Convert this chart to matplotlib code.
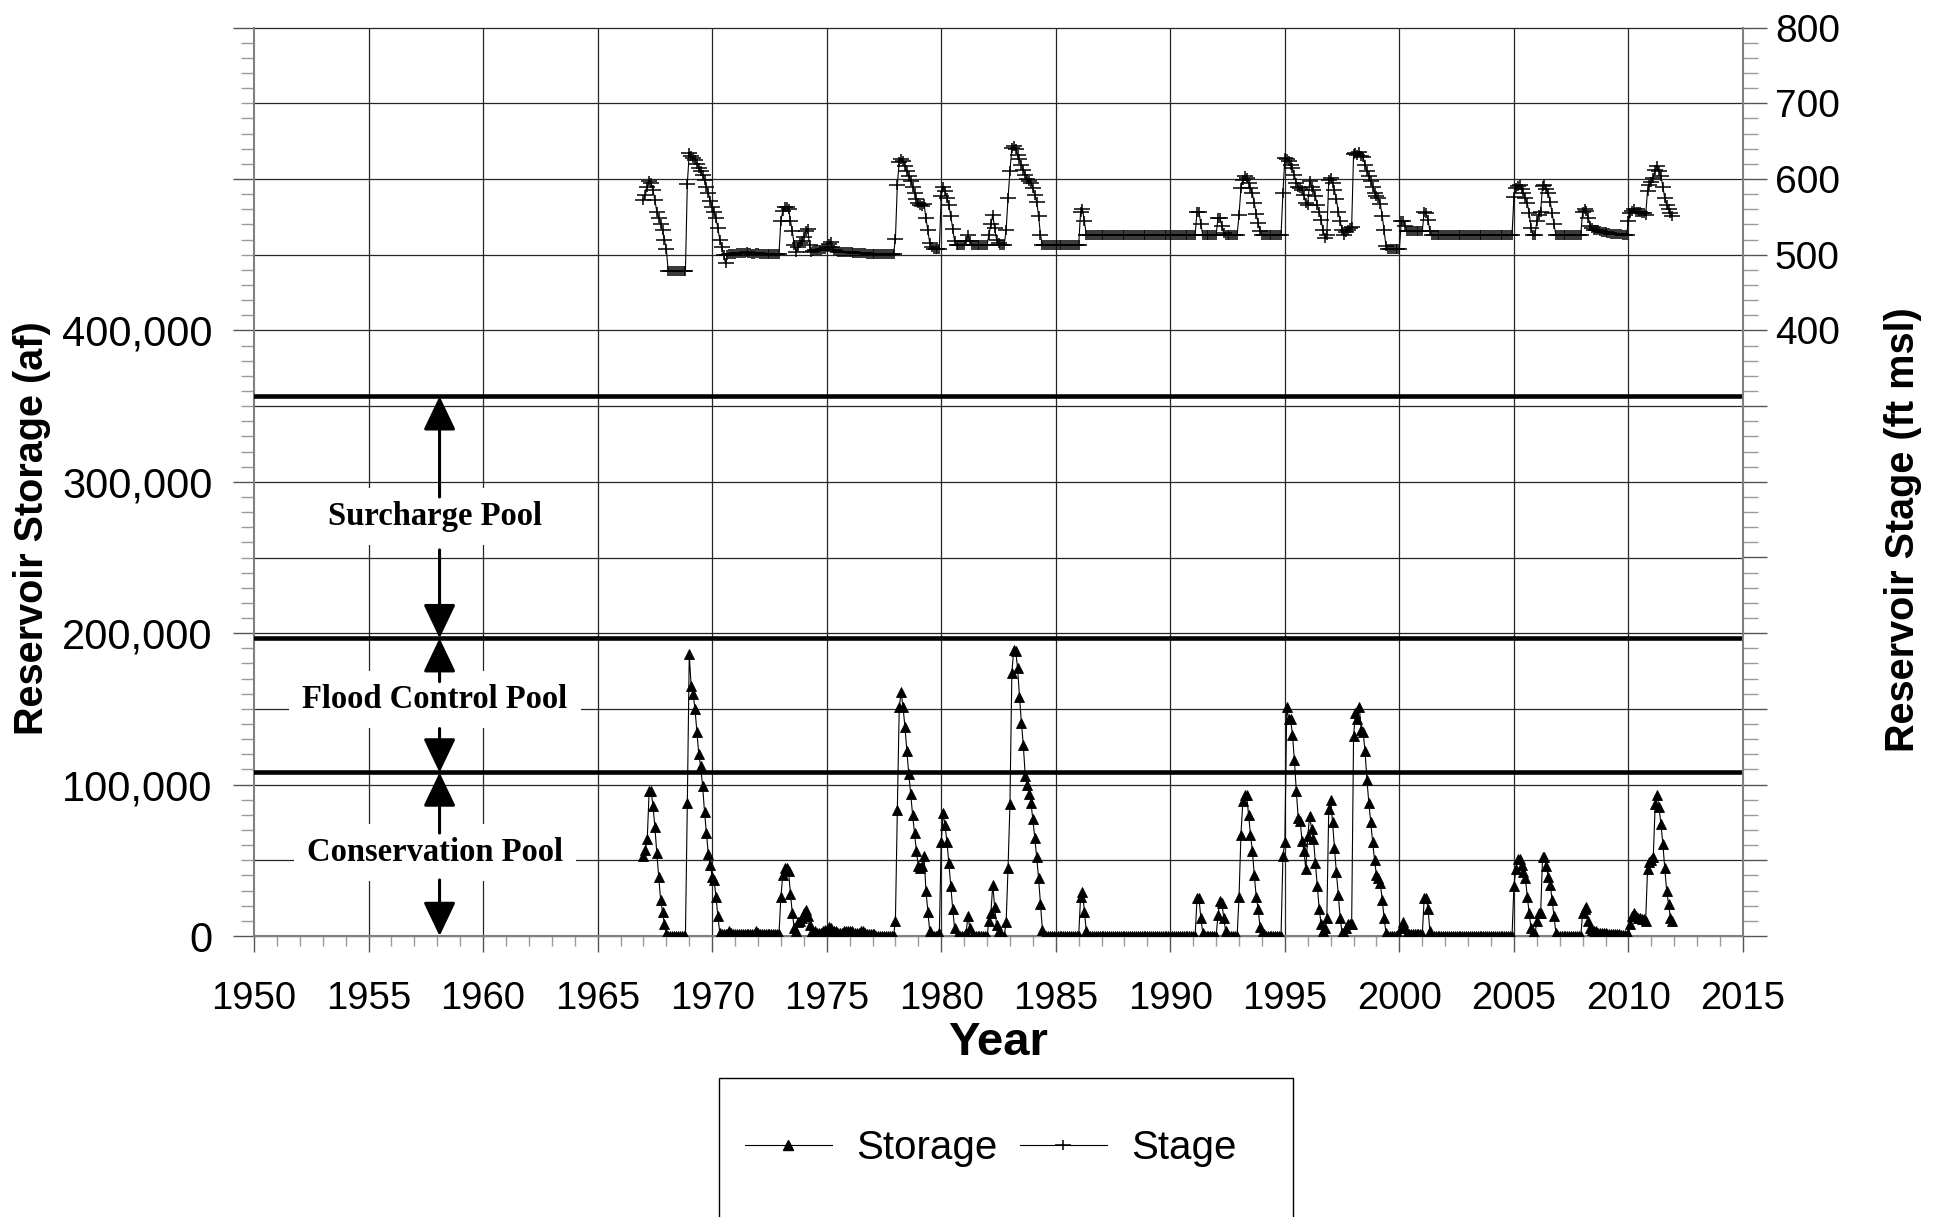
import numpy as np
import matplotlib
matplotlib.use('Agg')
import matplotlib.pyplot as plt
from matplotlib.path import Path
from matplotlib.ticker import MultipleLocator, FuncFormatter
from matplotlib.patches import Rectangle
from matplotlib.lines import Line2D

plt.rcParams['font.family'] = ['Liberation Sans', 'DejaVu Sans']

# ---------------- data (monthly, Jan 1967 - Dec 2011) ----------------
start_year = 1967
# Reservoir storage, thousand acre-feet
storage_1967_1976 = [
    53, 57, 64, 96, 96, 86, 72, 55, 39, 24, 16, 8,          # 1967
    1, 0, 0, 0, 0, 0, 0, 0, 0, 0, 0, 88,                    # 1968
    186, 165, 160, 150, 135, 120, 112, 99, 82, 68, 54, 47,  # 1969
    39, 37, 26, 13, 2, 1, 1, 1, 1, 3, 2, 1,                 # 1970
    1, 1, 1, 1, 1, 1, 1, 1, 1, 1, 1, 3,                     # 1971
    2, 1, 1, 1, 1, 1, 1, 1, 1, 1, 1, 1,                     # 1972
    26, 40, 45, 45, 43, 28, 15, 5, 3, 9, 10, 12,            # 1973
    15, 17, 13, 7, 2, 2, 3, 2, 2, 2, 3, 4,                  # 1974
    4, 6, 5, 3, 3, 3, 2, 2, 2, 3, 3, 3,                     # 1975
    3, 3, 2, 2, 2, 2, 3, 3, 2, 1, 1, 1,                     # 1976
]
storage_1977_1986 = [
    1, 1, 0, 0, 0, 0, 0, 0, 0, 0, 0, 0,                     # 1977
    10, 83, 151, 161, 151, 138, 122, 107, 94, 80, 68, 56,   # 1978
    46, 45, 46, 53, 30, 16, 3, 0, 0, 0, 0, 2,               # 1979
    62, 81, 73, 62, 48, 33, 18, 5, 0, 0, 0, 0,              # 1980
    0, 2, 13, 5, 0, 0, 0, 0, 0, 0, 0, 0,                    # 1981
    0, 10, 15, 34, 19, 7, 3, 1, 0, 0, 9, 45,                # 1982
    87, 174, 189, 188, 177, 158, 141, 126, 106, 100, 94, 88,  # 1983
    77, 65, 52, 38, 21, 4, 0, 0, 0, 0, 0, 0,                # 1984
    0, 0, 0, 0, 0, 0, 0, 0, 0, 0, 0, 0,                     # 1985
    0, 26, 29, 16, 3, 0, 0, 0, 0, 0, 0, 0,                  # 1986
]
storage_1987_1996 = [
    0, 0, 0, 0, 0, 0, 0, 0, 0, 0, 0, 0,                     # 1987
    0, 0, 0, 0, 0, 0, 0, 0, 0, 0, 0, 0,                     # 1988
    0, 0, 0, 0, 0, 0, 0, 0, 0, 0, 0, 0,                     # 1989
    0, 0, 0, 0, 0, 0, 0, 0, 0, 0, 0, 0,                     # 1990
    0, 0, 25, 25, 12, 2, 0, 0, 0, 0, 0, 0,                  # 1991
    0, 14, 23, 22, 12, 3, 0, 0, 0, 0, 0, 0,                 # 1992
    26, 67, 89, 93, 93, 80, 67, 56, 40, 26, 18, 6,          # 1993
    2, 1, 0, 0, 0, 0, 0, 0, 0, 0, 0, 53,                    # 1994
    62, 151, 143, 143, 133, 116, 96, 78, 76, 63, 56, 44,    # 1995
    66, 79, 71, 64, 48, 33, 18, 8, 3, 5, 12, 84,            # 1996
]
storage_1997_2011 = [
    90, 75, 58, 42, 27, 12, 2, 2, 5, 8, 8, 8,               # 1997
    132, 147, 143, 151, 136, 135, 122, 103, 88, 75, 62, 50,  # 1998
    40, 38, 35, 24, 12, 2, 0, 0, 0, 0, 0, 0,                # 1999
    0, 5, 9, 5, 2, 1, 1, 1, 1, 1, 1, 1,                     # 2000
    1, 25, 25, 18, 3, 0, 0, 0, 0, 0, 0, 0,                  # 2001
    0, 0, 0, 0, 0, 0, 0, 0, 0, 0, 0, 0,                     # 2002
    0, 0, 0, 0, 0, 0, 0, 0, 0, 0, 0, 0,                     # 2003
    0, 0, 0, 0, 0, 0, 0, 0, 0, 0, 0, 0,                     # 2004
    33, 44, 51, 51, 47, 42, 38, 26, 15, 5, 2, 1,            # 2005
    10, 15, 15, 52, 52, 46, 39, 34, 24, 13, 2, 0,           # 2006
    0, 0, 0, 0, 0, 0, 0, 0, 0, 0, 0, 0,                     # 2007
    15, 18, 19, 10, 5, 4, 3, 3, 2, 2, 2, 2,                 # 2008
    2, 1.5, 1.5, 1, 1, 1, 1, 1, 0.5, 0.5, 0.5, 0.5,         # 2009
    1, 8, 13, 15, 13, 12, 12, 11, 11, 10, 44, 49,           # 2010
    50, 52, 87, 93, 85, 74, 61, 45, 30, 21, 12, 10,         # 2011
]

# Reservoir stage, ft msl
stage_1967_1976 = [
    572, 579, 590, 598, 595, 585, 572, 557, 549, 541, 532, 520,  # 1967
    507, 478, 478, 478, 478, 478, 478, 478, 478, 478, 478, 594,  # 1968
    634, 631, 628, 625, 620, 615, 610, 605, 599, 590, 582, 571,  # 1969
    563, 557, 548, 535, 520, 510, 500, 489, 500, 501, 501, 501,  # 1970
    501, 502, 502, 502, 502, 502, 503, 502, 502, 501, 501, 502,  # 1971
    502, 501, 501, 501, 501, 501, 501, 501, 501, 501, 501, 501,  # 1972
    545, 558, 563, 563, 560, 545, 531, 513, 504, 510, 515, 518,  # 1973
    524, 531, 534, 513, 504, 505, 506, 506, 506, 506, 507, 508,  # 1974
    510, 514, 517, 510, 506, 505, 504, 504, 503, 503, 503, 503,  # 1975
    503, 503, 502, 502, 502, 502, 502, 502, 502, 501, 501, 501,  # 1976
]
stage_1977_1986 = [
    501, 501, 501, 501, 501, 501, 501, 501, 501, 501, 501, 501,  # 1977
    521, 592, 623, 626, 624, 617, 610, 604, 598, 590, 582, 573,  # 1978
    568, 565, 564, 567, 548, 532, 515, 510, 508, 508, 508, 508,  # 1979
    577, 590, 584, 575, 565, 551, 534, 518, 513, 513, 513, 513,  # 1980
    513, 518, 526, 518, 513, 513, 513, 513, 513, 513, 513, 513,  # 1981
    513, 526, 540, 553, 535, 520, 515, 513, 513, 513, 533, 575,  # 1982
    610, 641, 643, 639, 632, 626, 619, 612, 605, 600, 598, 595,  # 1983
    588, 579, 570, 551, 526, 513, 513, 513, 513, 513, 513, 513,  # 1984
    513, 513, 513, 513, 513, 513, 513, 513, 513, 513, 513, 513,  # 1985
    513, 556, 560, 544, 526, 526, 526, 526, 526, 526, 526, 526,  # 1986
]
stage_1987_1996 = [
    526, 526, 526, 526, 526, 526, 526, 526, 526, 526, 526, 526,  # 1987
    526, 526, 526, 526, 526, 526, 526, 526, 526, 526, 526, 526,  # 1988
    526, 526, 526, 526, 526, 526, 526, 526, 526, 526, 526, 526,  # 1989
    526, 526, 526, 526, 526, 526, 526, 526, 526, 526, 526, 526,  # 1990
    526, 526, 557, 557, 540, 526, 526, 526, 526, 526, 526, 526,  # 1991
    526, 549, 549, 538, 529, 526, 526, 526, 526, 526, 526, 526,  # 1992
    553, 588, 599, 604, 601, 595, 588, 581, 568, 554, 542, 531,  # 1993
    526, 526, 526, 526, 526, 526, 526, 526, 526, 526, 526, 582,  # 1994
    628, 626, 624, 619, 614, 605, 595, 590, 588, 586, 579, 568,  # 1995
    566, 597, 590, 586, 577, 566, 557, 546, 533, 522, 526, 599,  # 1996
]
stage_1997_2011 = [
    601, 595, 585, 573, 557, 544, 533, 526, 530, 533, 535, 537,  # 1997
    633, 634, 632, 636, 630, 629, 619, 611, 604, 597, 590, 582,  # 1998
    577, 575, 567, 551, 532, 511, 507, 507, 507, 507, 507, 507,  # 1999
    507, 544, 545, 538, 531, 531, 531, 531, 531, 531, 531, 531,  # 2000
    531, 557, 555, 546, 531, 526, 526, 526, 526, 526, 526, 526,  # 2001
    526, 526, 526, 526, 526, 526, 526, 526, 526, 526, 526, 526,  # 2002
    526, 526, 526, 526, 526, 526, 526, 526, 526, 526, 526, 526,  # 2003
    526, 526, 526, 526, 526, 526, 526, 526, 526, 526, 526, 526,  # 2004
    576, 588, 591, 592, 587, 582, 575, 568, 555, 535, 526, 526,  # 2005
    544, 553, 557, 591, 592, 587, 582, 570, 555, 540, 526, 526,  # 2006
    526, 526, 526, 526, 526, 526, 526, 526, 526, 526, 526, 526,  # 2007
    557, 561, 558, 548, 538, 535, 533, 532, 532, 531, 530, 530,  # 2008
    530, 529, 529, 528, 528, 528, 527, 527, 527, 526, 526, 526,  # 2009
    544, 555, 558, 560, 557, 557, 556, 555, 555, 553, 584, 592,  # 2010
    596, 601, 612, 617, 611, 604, 590, 575, 566, 560, 555, 551,  # 2011
]

# pool boundaries (af) and labels
pool_names = ['Surcharge Pool', 'Flood Control Pool', 'Conservation Pool']
pool_tops = [356500, 196700, 108000]
pool_bottom = 0
series_labels = ['Storage', 'Stage']

storage = np.array(storage_1967_1976 + storage_1977_1986 +
                   storage_1987_1996 + storage_1997_2011, dtype=float) * 1000
stage = np.array(stage_1967_1976 + stage_1977_1986 +
                 stage_1987_1996 + stage_1997_2011, dtype=float)
t = start_year + np.arange(len(storage)) / 12.0

# ---------------- figure ----------------
W, H = 1954, 1217
fig = plt.figure(figsize=(W / 100, H / 100), dpi=100)
x0, x1, yb, yt = 254, 1743, 936, 27.6
ax = fig.add_axes([x0 / W, 1 - yb / H, (x1 - x0) / W, (yb - yt) / H])
ax.set_xlim(1950, 2015)
ax.set_ylim(0, 600000)

grid_c = '#262626'
for v in np.arange(0, 600001, 50000):
    ax.axhline(v, color=grid_c, lw=0.9, zorder=1, clip_on=False)
for yr in range(1955, 2015, 5):
    ax.axvline(yr, color=grid_c, lw=0.9, zorder=1)

# pool boundary lines
for v in pool_tops:
    ax.axhline(v, color='black', lw=3.3, zorder=3, solid_capstyle='round')

# pool labels + arrows
ax_x_arrow = 1958.1
ax_x_text = 1957.9
label_y = [277000, 156000, 55000]
arrow_segments = [
    [(290000, pool_tops[0]), (255000, pool_tops[1])],
    [(168000, pool_tops[1]), (137000, pool_tops[2])],
    [(68000, pool_tops[2]), (37000, pool_bottom)],
]
for name, ly, segs in zip(pool_names, label_y, arrow_segments):
    ax.text(ax_x_text, ly, name, fontsize=23.5, fontweight='bold',
            family=['Liberation Serif', 'DejaVu Serif'], ha='center', va='center',
            bbox=dict(boxstyle='square,pad=0.4', fc='white', ec='none'), zorder=4)
    for (ya, yb_) in segs:
        ax.annotate('', xy=(ax_x_arrow, yb_), xytext=(ax_x_arrow, ya),
                    arrowprops=dict(arrowstyle='-|>,head_length=2.1,head_width=1.0',
                                    mutation_scale=10, lw=2.2, color='black',
                                    shrinkA=0, shrinkB=0), zorder=6)

# plus marker, wider than tall
plus = Path([(-1, 0), (1, 0), (0, -0.55), (0, 0.55)],
            [Path.MOVETO, Path.LINETO, Path.MOVETO, Path.LINETO])

ax.plot(t, storage, color='black', lw=0.8, marker='^', ms=7.5, mfc='black',
        mec='black', mew=0.6, zorder=5)

ax2 = ax.twinx()
ax2.set_ylim(-400, 800)
ax2.plot(t, stage, color='black', lw=0.8, marker=plus, ms=12, mew=1.1, zorder=5)

# ---------------- ticks ----------------
ax.xaxis.set_major_locator(MultipleLocator(5))
ax.xaxis.set_minor_locator(MultipleLocator(1))
ax.xaxis.set_major_formatter(FuncFormatter(lambda v, p: f'{int(round(v))}'))
ax.yaxis.set_major_locator(MultipleLocator(100000))
ax.yaxis.set_minor_locator(MultipleLocator(10000))
ax.yaxis.set_major_formatter(FuncFormatter(
    lambda v, p: f'{int(round(v)):,}' if v <= 400000 else ''))
ax2.yaxis.set_major_locator(MultipleLocator(100))
ax2.yaxis.set_minor_locator(MultipleLocator(20))
ax2.yaxis.set_major_formatter(FuncFormatter(
    lambda v, p: f'{int(round(v))}' if v >= 400 else ''))

tick_dark, tick_light = '#555555', '#9a9a9a'
ax.tick_params(axis='y', which='major', direction='out', length=15, width=1,
               color=tick_dark, labelsize=30, pad=15)
ax.tick_params(axis='y', which='minor', direction='out', length=9.4, width=1,
               color=tick_light)
ax.tick_params(axis='x', which='major', direction='out', length=11.5, width=1,
               color=tick_dark, labelsize=27.5, pad=21)
ax.tick_params(axis='x', which='minor', direction='out', length=7, width=1,
               color=tick_light)
ax2.tick_params(axis='y', which='major', direction='out', length=17, width=1,
                color=tick_dark, labelsize=28, pad=6)
ax2.tick_params(axis='y', which='minor', direction='out', length=11, width=1,
                color=tick_light)

for a in (ax, ax2):
    for s in a.spines.values():
        s.set_visible(False)
for side in ('left', 'bottom'):
    ax.spines[side].set_visible(True)
    ax.spines[side].set_color('#808080')
    ax.spines[side].set_linewidth(1.5)
ax2.spines['right'].set_visible(True)
ax2.spines['right'].set_color('#808080')
ax2.spines['right'].set_linewidth(1.5)

# ---------------- titles ----------------
fig.text(32 / W, 1 - 528 / H, 'Reservoir Storage (af)', rotation=90,
         ha='center', va='center', fontsize=28.5, fontweight='bold')
fig.text(1903 / W, 1 - 530 / H, 'Reservoir Stage (ft msl)', rotation=90,
         ha='center', va='center', fontsize=28.5, fontweight='bold')
fig.text(998 / W, 1 - 1043 / H, 'Year', ha='center', va='center',
         fontsize=34, fontweight='bold')

# ---------------- legend ----------------
handles = [Line2D([], [], color='black', lw=0.8, marker='^', ms=7.5, mfc='black', mec='black'),
           Line2D([], [], color='black', lw=0.8, marker=plus, ms=12, mew=1.1)]
fig.legend(handles, series_labels, loc='center', bbox_to_anchor=(991 / W, 1 - 1148 / H),
           ncol=2, frameon=False, fontsize=29, handlelength=2.15, handletextpad=0.62,
           columnspacing=0.55, borderpad=0)
fig.add_artist(Rectangle((719 / W, 1 - 1240 / H), (1293 - 719) / W, (1240 - 1078) / H,
                         transform=fig.transFigure, fill=False, ec='black', lw=1))

fig.savefig('out.png', dpi=100)
